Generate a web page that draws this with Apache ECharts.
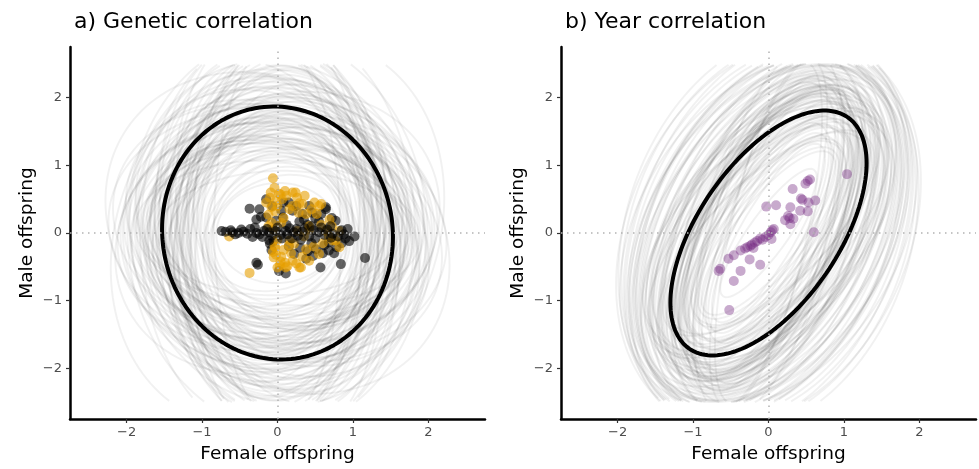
<!DOCTYPE html>
<html>
<head>
<meta charset="utf-8">
<script src="https://cdn.jsdelivr.net/npm/echarts@6.0.0/dist/echarts.min.js"></script>
<style>
  html, body { margin: 0; padding: 0; background: #fff; }
  #chart { width: 979px; height: 469px; }
</style>
</head>
<body>
<div id="chart"></div>
<script>
// tick values shared by both panels
const tickVals = [-2, -1, 0, 1, 2]

// panel a: posterior mean ellipse (female extent, male extent, correlation)
const genMean = [1.53, 1.87, -0.03]
// panel a: posterior sample ellipses
const genSdF = [
  1.52, 1.21, 1.84, 0.95, 1.63, 1.38, 2.05, 1.12, 1.71, 1.45,
  0.88, 1.96, 1.29, 1.58, 1.74, 1.03, 2.21, 1.34, 1.49, 1.67,
  0.81, 1.88, 1.16, 1.41, 2.12, 1.55, 1.26, 1.79, 0.99, 1.62,
  1.37, 1.93, 1.08, 1.47, 2.28, 1.19, 1.69, 1.33, 1.85, 0.91,
  1.58, 1.24, 2.01, 1.44, 1.76, 1.14, 1.51, 0.86, 1.97, 1.31,
  1.65, 1.06, 1.82, 1.40, 2.15, 1.22, 1.59, 1.35, 1.72, 0.97,
  1.90, 1.27, 1.53, 2.08, 1.11, 1.46, 1.80, 1.36, 1.01, 1.64,
  1.43, 1.18, 1.77, 2.24, 1.30, 1.56, 0.93, 1.69, 1.25, 1.99,
  1.48, 1.73, 1.09, 1.88, 1.34, 2.18, 1.57, 0.84, 1.66, 1.42,
  1.95, 1.20, 1.61, 1.38, 2.03, 1.15, 1.78, 1.50, 1.28, 1.87
]
const genSdM = [
  1.85, 2.41, 1.62, 1.18, 2.73, 1.95, 2.28, 1.44, 2.06, 1.71,
  0.98, 2.55, 1.83, 1.37, 2.19, 1.26, 2.87, 1.58, 2.34, 1.92,
  0.74, 2.12, 1.49, 2.66, 1.77, 1.33, 2.47, 1.66, 1.09, 2.95,
  1.54, 2.01, 1.81, 1.24, 2.38, 1.69, 1.41, 2.79, 1.88, 0.86,
  2.23, 1.59, 1.97, 2.61, 1.35, 1.76, 2.15, 1.04, 1.64, 2.44,
  1.89, 1.28, 3.05, 1.52, 2.09, 1.73, 1.39, 2.52, 1.94, 1.15,
  2.31, 1.67, 1.46, 2.02, 2.70, 1.57, 1.21, 2.26, 1.79, 1.32,
  1.99, 2.58, 1.48, 1.86, 1.12, 2.36, 1.61, 2.17, 1.74, 2.89,
  2.64, 1.43, 2.21, 1.07, 2.48, 1.91, 1.27, 2.78, 1.56, 3.12,
  1.70, 2.33, 0.92, 2.05, 1.63, 2.93, 1.38, 2.14, 1.81, 2.42
]
const genR = [
  -0.05, 0.12, -0.18, 0.03, -0.09, 0.21, -0.02, -0.26, 0.08, -0.13,
  0.15, -0.07, 0.01, -0.21, 0.10, -0.04, 0.18, -0.15, 0.06, -0.11,
  0.02, -0.24, 0.13, -0.06, 0.09, -0.17, 0.04, -0.01, 0.22, -0.10,
  -0.14, 0.07, -0.03, 0.16, -0.20, 0.11, -0.08, 0.05, -0.12, 0.19,
  -0.06, 0.00, -0.23, 0.14, -0.02, 0.09, -0.16, 0.03, -0.09, 0.12,
  0.06, -0.19, 0.02, -0.05, 0.17, -0.11, 0.08, -0.27, 0.04, -0.03,
  -0.08, 0.13, -0.14, 0.01, -0.07, 0.20, -0.12, 0.06, -0.01, -0.18,
  0.10, -0.04, 0.15, -0.09, 0.03, -0.22, 0.07, -0.06, 0.11, -0.02,
  0.05, -0.15, 0.18, -0.08, 0.02, -0.19, 0.11, -0.03, 0.14, -0.10,
  0.07, -0.21, 0.04, 0.16, -0.05, 0.09, -0.13, 0.00, 0.12, -0.07
]
// panel a: predicted values (female, male)
const genBlack = [
  [-0.74, 0.03], [-0.69, 0.02], [-0.60, 0.01], [-0.52, 0.00], [-0.45, 0.02],
  [-0.36, 0.06], [-0.33, -0.06], [-0.28, 0.00], [-0.24, -0.02], [-0.18, 0.03],
  [-0.11, 0.01], [-0.11, -0.11], [-0.05, -0.12], [-0.02, 0.03], [0.04, -0.03],
  [0.11, 0.03], [0.16, 0.07], [0.22, 0.01], [0.27, -0.04], [0.33, 0.02],
  [0.42, -0.05], [0.48, 0.04], [0.55, 0.01], [0.62, -0.03], [0.68, -0.14],
  [0.73, -0.01], [0.77, 0.18], [0.78, -0.21], [0.85, 0.04], [0.93, 0.06],
  [1.02, -0.05], [1.16, -0.37], [0.84, -0.46], [0.57, -0.51], [0.51, -0.24],
  [0.38, -0.38], [0.22, -0.31], [0.11, -0.60], [0.02, -0.56], [-0.28, -0.44],
  [-0.26, -0.47], [-0.37, 0.36], [-0.24, 0.35], [-0.22, 0.24], [-0.28, 0.20],
  [-0.15, 0.23], [-0.15, 0.50], [-0.07, 0.40], [0.07, 0.23], [0.08, 0.45],
  [0.15, 0.45], [0.20, 0.33], [0.33, 0.28], [0.46, 0.30], [0.64, 0.35],
  [0.64, 0.38], [0.55, 0.17], [0.29, 0.17], [0.60, -0.30], [0.45, -0.15],
  [0.15, -0.20], [-0.08, -0.25], [0.70, 0.10], [0.85, -0.15], [0.40, 0.12],
  [-0.62, 0.04], [-0.56, -0.02], [-0.48, 0.05], [-0.40, -0.01], [-0.30, 0.08],
  [-0.20, -0.06], [-0.14, 0.06], [-0.08, -0.04], [0.00, 0.08], [0.06, -0.08],
  [0.13, -0.02], [0.19, -0.08], [0.25, 0.06], [0.31, -0.10], [0.36, 0.07],
  [0.45, 0.10], [0.50, -0.08], [0.58, 0.08], [0.66, 0.05], [0.71, -0.07],
  [0.80, -0.05], [0.88, -0.02], [0.75, -0.30], [0.68, -0.26], [0.62, -0.18],
  [0.47, -0.34], [0.30, -0.22], [0.40, -0.27], [0.35, 0.20], [0.50, 0.22],
  [0.58, 0.28], [0.25, 0.40], [0.42, 0.40], [0.05, 0.33], [-0.02, 0.18],
  [0.12, 0.12], [0.72, 0.22], [0.90, -0.08], [0.95, -0.12], [-0.10, -0.16]
]
const genOrange = [
  [-0.06, 0.81], [-0.09, 0.60], [-0.04, 0.67], [0.02, 0.58], [0.04, 0.57],
  [0.20, 0.60], [0.24, 0.60], [-0.64, -0.05], [-0.37, -0.59], [0.49, 0.45],
  [0.58, 0.43], [0.29, 0.44], [0.20, 0.40], [0.33, 0.43], [0.38, 0.28],
  [-0.15, 0.45], [-0.08, 0.38], [-0.03, 0.32], [-0.12, 0.27], [0.08, 0.22],
  [-0.03, -0.21], [-0.05, -0.36], [0.00, -0.51], [0.29, -0.51], [0.31, -0.51],
  [0.20, -0.41], [0.42, -0.41], [0.38, -0.24], [0.55, -0.31], [0.73, -0.11],
  [0.77, -0.11], [0.82, -0.21], [0.82, 0.03], [0.64, 0.03], [0.42, 0.10],
  [0.26, 0.03], [0.16, -0.11], [0.22, -0.16], [0.42, 0.05], [0.69, 0.20],
  [0.11, -0.51], [0.13, -0.49], [0.04, -0.42], [-0.02, -0.32], [0.15, -0.18],
  [-0.04, -0.20], [0.05, 0.15], [0.55, 0.40],
  [-0.10, 0.52], [-0.02, 0.48], [0.06, 0.50], [0.12, 0.55], [0.16, 0.35],
  [0.26, 0.52], [0.36, 0.55], [0.45, 0.35], [0.52, 0.28], [-0.05, 0.05],
  [0.00, -0.10], [0.08, -0.25], [-0.06, -0.28], [0.05, -0.35], [0.10, -0.44],
  [0.18, -0.30], [0.25, -0.45], [0.33, -0.35], [0.48, -0.20], [0.60, -0.15],
  [0.68, -0.05], [0.72, 0.10], [0.58, 0.12], [0.35, -0.05], [-0.08, 0.15],
  [0.00, 0.40], [0.10, 0.62], [-0.12, 0.10], [0.03, -0.48], [0.28, 0.30]
]

// panel b: posterior mean ellipse
const yearMean = [1.30, 1.81, 0.57]
// panel b: posterior sample ellipses
const yearSdF = [
  1.30, 1.05, 1.62, 0.78, 1.21, 1.76, 0.94, 1.45, 1.12, 1.88,
  0.86, 1.54, 1.27, 1.69, 1.01, 1.97, 1.17, 1.40, 0.71, 1.58,
  1.24, 1.80, 0.99, 1.48, 1.09, 1.66, 1.35, 0.83, 1.73, 1.15,
  1.92, 1.03, 1.29, 1.57, 0.91, 1.43, 1.84, 1.19, 1.52, 0.97,
  1.34, 1.71, 1.08, 1.26, 2.02, 1.13, 1.55, 0.88, 1.37, 1.64,
  1.22, 1.79, 1.00, 1.31, 1.67, 0.80, 1.47, 1.16, 1.75, 1.25,
  1.06, 1.44, 1.90, 1.11, 1.33, 0.93, 1.60, 1.20, 1.70, 1.28,
  0.75, 1.50, 1.14, 1.39, 1.85, 1.02, 1.56, 1.23, 1.63, 1.18,
  1.95, 1.41, 0.89, 1.68, 1.10, 1.82, 1.36, 0.64, 1.53, 1.26,
  1.99, 1.07, 1.46, 1.77, 0.96, 1.59, 1.32, 1.86, 1.19, 1.42
]
const yearSdM = [
  1.82, 2.25, 1.94, 2.55, 1.96, 2.48, 1.27, 2.42, 1.73, 2.50,
  1.41, 2.66, 2.11, 2.27, 2.33, 2.59, 2.16, 1.52, 2.52, 2.18,
  2.01, 2.38, 2.72, 1.85, 2.20, 2.06, 2.14, 1.63, 2.67, 1.69,
  2.78, 1.36, 2.59, 1.99, 1.62, 2.30, 2.51, 2.16, 1.91, 2.09,
  1.74, 2.48, 1.95, 2.17, 2.85, 2.33, 1.87, 2.06, 1.64, 2.45,
  1.91, 2.64, 2.28, 2.03, 1.77, 1.48, 2.47, 2.14, 2.70, 2.35,
  1.68, 2.12, 2.92, 2.51, 1.49, 2.23, 1.80, 2.07, 2.56, 2.60,
  1.32, 2.19, 1.60, 2.40, 2.71, 1.39, 2.19, 1.71, 2.32, 2.02,
  2.88, 2.26, 1.21, 2.57, 1.56, 2.76, 2.12, 0.95, 2.37, 1.83,
  2.96, 1.58, 2.29, 2.62, 1.44, 2.52, 2.08, 2.74, 1.97, 2.21
]
const yearR = [
  0.57, 0.63, 0.48, 0.71, 0.55, 0.42, 0.76, 0.52, 0.60, 0.38,
  0.81, 0.45, 0.58, 0.54, 0.66, 0.33, 0.61, 0.73, 0.68, 0.50,
  0.59, 0.44, 0.53, 0.72, 0.56, 0.49, 0.62, 0.70, 0.40, 0.75,
  0.30, 0.68, 0.51, 0.57, 0.78, 0.47, 0.36, 0.64, 0.53, 0.69,
  0.65, 0.41, 0.74, 0.59, 0.27, 0.56, 0.46, 0.72, 0.63, 0.48,
  0.66, 0.35, 0.60, 0.55, 0.52, 0.79, 0.50, 0.62, 0.34, 0.58,
  0.71, 0.57, 0.31, 0.51, 0.70, 0.54, 0.67, 0.60, 0.43, 0.49,
  0.83, 0.52, 0.64, 0.47, 0.37, 0.74, 0.53, 0.61, 0.45, 0.58,
  0.25, 0.50, 0.80, 0.42, 0.69, 0.39, 0.56, 0.87, 0.48, 0.63,
  0.22, 0.66, 0.52, 0.36, 0.73, 0.44, 0.59, 0.32, 0.62, 0.55
]
const yearPurple = [
  [1.04, 0.87], [0.55, 0.79], [0.52, 0.77], [0.49, 0.73], [0.32, 0.65],
  [0.43, 0.51], [0.45, 0.49], [0.62, 0.48], [0.53, 0.45], [-0.03, 0.39],
  [0.10, 0.41], [0.29, 0.38], [0.42, 0.33], [0.52, 0.32], [0.26, 0.25],
  [0.33, 0.21], [0.22, 0.19], [0.29, 0.13], [0.60, 0.01], [0.07, 0.06],
  [0.05, 0.04], [0.03, 0.01], [-0.04, -0.06], [0.04, -0.09], [-0.11, -0.08],
  [-0.08, -0.10], [-0.18, -0.14], [-0.22, -0.17], [-0.24, -0.19], [-0.28, -0.21],
  [-0.31, -0.23], [-0.37, -0.26], [-0.25, -0.39], [-0.11, -0.47], [-0.46, -0.33],
  [-0.53, -0.38], [-0.64, -0.53], [-0.66, -0.56], [-0.37, -0.56], [-0.46, -0.71],
  [-0.52, -1.14], [-0.15, -0.12], [-0.20, -0.22], [0.00, -0.03], [0.28, 0.22]
]

const FONT = '"DejaVu Sans", Verdana, sans-serif'
const LIM = 2.5

// outline of an ellipse from its two extents and correlation, cut where it leaves the plotted range
function ellipsePath(a, b, r) {
  const pts = []
  const s = Math.sqrt(1 - r * r)
  for (let i = 0; i <= 160; i++) {
    const t = i / 160 * 2 * Math.PI
    const x = a * Math.cos(t)
    const y = b * (r * Math.cos(t) + s * Math.sin(t))
    pts.push(Math.abs(y) > LIM || Math.abs(x) > LIM ? [x, '-'] : [x, y])
  }
  return pts
}

function fmt(v) {
  return String(v).replace('-', '\u2212')
}

function makeAxes(i, left) {
  const tick = { show: true, customValues: tickVals, length: 4, lineStyle: { color: '#333', width: 1.2 } }
  const line = { onZero: false, lineStyle: { color: '#000', width: 2.5 } }
  const nameStyle = { fontSize: 18.5, color: '#000', fontFamily: FONT }
  return {
    grid: { left: left, top: 47, width: 415, height: 372 },
    xAxis: {
      type: 'value', gridIndex: i, min: -2.75, max: 2.75,
      name: 'Female offspring', nameLocation: 'middle', nameGap: 26,
      nameTextStyle: nameStyle, axisLine: line, axisTick: tick,
      axisLabel: { customValues: tickVals, formatter: fmt, color: '#4d4d4d', fontSize: 13, margin: 7, fontFamily: FONT },
      splitLine: { show: false }
    },
    yAxis: {
      type: 'value', gridIndex: i, min: -2.75, max: 2.75,
      name: 'Male offspring', nameLocation: 'middle', nameGap: 33,
      nameTextStyle: nameStyle, axisLine: line, axisTick: tick,
      axisLabel: { customValues: tickVals, formatter: fmt, color: '#4d4d4d', fontSize: 13, margin: 8, fontFamily: FONT },
      splitLine: { show: false }
    }
  }
}

function panelSeries(i, sdF, sdM, rr, mean, groups) {
  const out = []
  out.push({
    type: 'line', xAxisIndex: i, yAxisIndex: i, data: [], z: 1, silent: true,
    markLine: {
      silent: true, symbol: 'none', label: { show: false },
      lineStyle: { color: '#b3b3b3', type: [1.5, 4.5], width: 1.5 },
      data: [{ xAxis: 0 }, { yAxis: 0 }]
    }
  })
  for (let k = 0; k < sdF.length; k++) {
    out.push({
      type: 'line', xAxisIndex: i, yAxisIndex: i, z: 2, silent: true,
      symbol: 'none', connectNulls: false,
      lineStyle: { color: '#000', opacity: 0.055, width: 2 },
      data: ellipsePath(sdF[k], sdM[k], rr[k])
    })
  }
  out.push({
    type: 'line', xAxisIndex: i, yAxisIndex: i, z: 3, silent: true,
    symbol: 'none', lineStyle: { color: '#000', width: 4 },
    data: ellipsePath(mean[0], mean[1], mean[2])
  })
  groups.forEach(g => {
    out.push({
      type: 'scatter', xAxisIndex: i, yAxisIndex: i, z: 4, silent: true,
      symbolSize: 10, itemStyle: { color: g.color, opacity: g.opacity },
      data: g.data
    })
  })
  return out
}

// black points off the central band sit under the orange ones, the band sits on top
const inBand = p => Math.abs(p[1]) < 0.12

const a = makeAxes(0, 70)
const b = makeAxes(1, 561)
const titleStyle = { fontSize: 22, fontWeight: 'normal', color: '#000', fontFamily: FONT }

const chart = echarts.init(document.getElementById('chart'), null, { renderer: 'canvas' })
chart.setOption({
  animation: false,
  backgroundColor: '#fff',
  title: [
    { text: 'a) Genetic correlation', left: 69, top: 6, textStyle: titleStyle },
    { text: 'b) Year correlation', left: 560, top: 6, textStyle: titleStyle }
  ],
  grid: [a.grid, b.grid],
  xAxis: [a.xAxis, b.xAxis],
  yAxis: [a.yAxis, b.yAxis],
  series: [
    ...panelSeries(0, genSdF, genSdM, genR, genMean, [
      { data: genBlack.filter(p => !inBand(p)), color: '#000', opacity: 0.6 },
      { data: genOrange, color: '#E69F00', opacity: 0.6 },
      { data: genBlack.filter(inBand), color: '#000', opacity: 0.6 }
    ]),
    ...panelSeries(1, yearSdF, yearSdM, yearR, yearMean, [
      { data: yearPurple, color: '#762A83', opacity: 0.4 }
    ])
  ]
})
</script>
</body>
</html>
